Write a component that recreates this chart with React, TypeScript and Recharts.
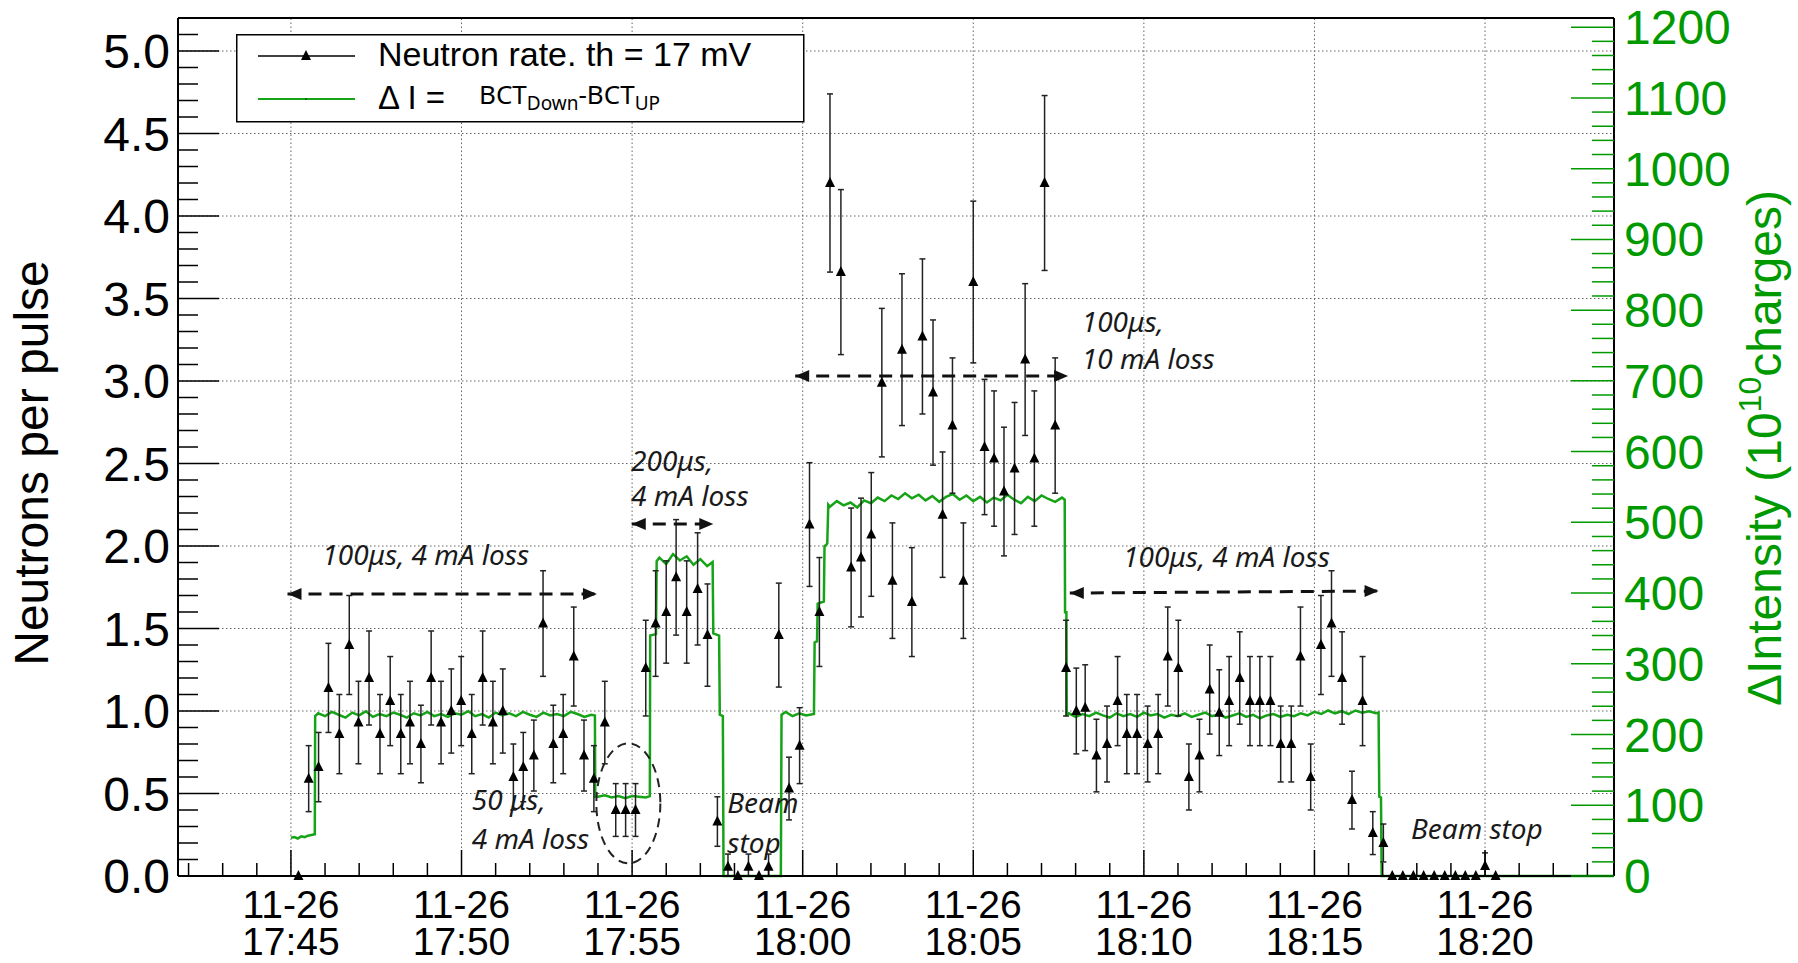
import React from "react";
import {
  ComposedChart,
  Line,
  Scatter,
  ErrorBar,
  XAxis,
  YAxis,
  ReferenceLine,
  ReferenceDot,
  Legend,
} from "recharts";

// time axis is minutes after 11-26 17:45
const X_MIN = -3.31;
const X_MAX = 38.78;
const LEFT_MAX = 5.2;
const RIGHT_MAX = 1213;

const xTickValues = [0, 5, 10, 15, 20, 25, 30, 35];
const xTickTimes = ["17:45", "17:50", "17:55", "18:00", "18:05", "18:10", "18:15", "18:20"];
const xTickDate = "11-26";
const leftTickLabels = ["0.0", "0.5", "1.0", "1.5", "2.0", "2.5", "3.0", "3.5", "4.0", "4.5", "5.0"];
const rightTickLabels = ["0", "100", "200", "300", "400", "500", "600", "700", "800", "900", "1000", "1100", "1200"];

// neutron rate (neutrons per pulse) with error
const neutronTime = [
  0.22, 0.52, 0.81, 1.1, 1.42, 1.71, 1.98, 2.29, 2.61, 2.91, 3.22, 3.49, 3.81, 4.11, 4.4, 4.7, 4.99, 5.3, 5.62, 5.92,
  6.21, 6.52, 6.81, 7.12, 7.39, 7.69, 7.98, 8.29, 8.59, 8.88, 9.2, 9.52, 9.81, 10.1, 10.4, 10.69, 11.0, 11.29, 11.6, 11.92,
  12.21, 12.5, 12.81, 13.1, 13.41, 13.72, 14.0, 14.3, 14.6, 14.91, 15.2, 15.49, 15.8, 16.12, 16.42, 16.71, 17.01, 17.32, 17.63, 17.91,
  18.2, 18.51, 18.82, 19.1, 19.39, 19.71, 20.0, 20.33, 20.61, 20.9, 21.21, 21.52, 21.79, 22.09, 22.4, 22.72, 23.02, 23.28, 23.61, 23.92,
  24.23, 24.5, 24.8, 25.11, 25.42, 25.7, 26.01, 26.32, 26.63, 26.93, 27.21, 27.5, 27.81, 28.11, 28.4, 28.71, 29.01, 29.32, 29.59, 29.89,
  30.19, 30.5, 30.81, 31.1, 31.41, 31.71, 32.02, 32.28, 32.59, 32.9, 33.2, 33.51, 33.82, 34.13, 34.42, 34.73, 35.0, 35.31,
];
const neutronRate = [
  0, 0.59, 0.66, 1.14, 0.86, 1.4, 0.93, 1.2, 0.86, 1.06, 0.86, 0.93, 0.8, 1.2, 0.93, 1.0, 1.06, 0.86, 1.2, 0.93,
  1.0, 0.6, 0.66, 0.73, 1.53, 0.8, 0.86, 1.33, 0.73, 0.59, 0.93, 0.4, 0.4, 0.4, 1.26, 1.53, 1.6, 1.81, 1.6, 1.74,
  1.46, 0.33, 0.056, 0, 0.056, 0, 0.056, 1.46, 0.53, 0.79, 2.13, 1.6, 4.2, 3.66, 1.87, 1.93, 2.07, 2.99, 1.79, 3.19,
  1.66, 3.27, 2.93, 2.19, 2.73, 1.79, 3.6, 2.6, 2.53, 2.33, 2.47, 3.13, 2.53, 4.2, 2.73, 1.26, 1.0, 1.02, 0.73, 0.8,
  1.06, 0.86, 0.86, 0.8, 0.86, 1.33, 1.26, 0.6, 0.73, 1.13, 0.99, 1.06, 1.2, 1.06, 1.06, 1.06, 0.8, 0.8, 1.33, 0.6,
  1.4, 1.53, 1.2, 0.46, 1.06, 0.26, 0.2, 0, 0, 0, 0, 0, 0, 0, 0, 0, 0.06, 0,
];
const neutronErr = [
  0, 0.2, 0.21, 0.27, 0.24, 0.3, 0.25, 0.285, 0.24, 0.27, 0.24, 0.25, 0.235, 0.285, 0.25, 0.255, 0.27, 0.24, 0.285, 0.25,
  0.255, 0.2, 0.21, 0.215, 0.32, 0.235, 0.24, 0.3, 0.215, 0.2, 0.25, 0.16, 0.16, 0.16, 0.29, 0.32, 0.31, 0.35, 0.31, 0.34,
  0.31, 0.15, 0.077, 0, 0.077, 0, 0.077, 0.315, 0.19, 0.23, 0.375, 0.33, 0.54, 0.5, 0.36, 0.36, 0.375, 0.45, 0.35, 0.46,
  0.33, 0.47, 0.44, 0.38, 0.41, 0.35, 0.49, 0.41, 0.41, 0.39, 0.4, 0.46, 0.41, 0.53, 0.41, 0.29, 0.26, 0.26, 0.22, 0.23,
  0.27, 0.24, 0.24, 0.23, 0.24, 0.3, 0.29, 0.2, 0.22, 0.27, 0.26, 0.27, 0.28, 0.27, 0.27, 0.27, 0.23, 0.23, 0.3, 0.2,
  0.3, 0.32, 0.28, 0.175, 0.27, 0.13, 0.115, 0, 0, 0, 0, 0, 0, 0, 0, 0, 0.08, 0,
];

// delta I = BCT_Down - BCT_UP  (10^10 charges), [minute, value]
const dIStart: [number, number][] = [
  [0, 54], [0.1, 55], [0.2, 53], [0.3, 56], [0.4, 55], [0.5, 57], [0.6, 58], [0.7, 59],
];
const dI100usA: [number, number][] = [
  [0.71, 226], [0.8, 230], [1.0, 226], [1.2, 232], [1.4, 228], [1.6, 224], [1.8, 231], [2.0, 227], [2.2, 233], [2.4, 225],
  [2.6, 229], [2.8, 226], [3.0, 231], [3.2, 228], [3.4, 224], [3.6, 230], [3.8, 227], [4.0, 232], [4.2, 226], [4.4, 229],
  [4.6, 225], [4.8, 230], [5.0, 228], [5.2, 233], [5.4, 226], [5.6, 229], [5.8, 224], [6.0, 231], [6.2, 227], [6.4, 230],
  [6.6, 226], [6.8, 232], [7.0, 228], [7.2, 225], [7.4, 231], [7.6, 227], [7.8, 229], [8.0, 226], [8.2, 232], [8.4, 229],
  [8.6, 225], [8.8, 228], [8.91, 227],
];
const dI50us: [number, number][] = [
  [8.92, 112], [9.0, 112], [9.2, 114], [9.4, 111], [9.6, 113], [9.8, 110], [10.0, 113], [10.2, 112], [10.4, 111], [10.52, 113],
];
const dI200us: [number, number][] = [
  [10.53, 340], [10.7, 342], [10.72, 445], [10.8, 450], [11.0, 441], [11.2, 455], [11.4, 446], [11.6, 452], [11.8, 440],
  [12.0, 448], [12.2, 438], [12.36, 444], [12.38, 343], [12.55, 340], [12.57, 228], [12.66, 226], [12.68, 0], [14.36, 0],
];
const dI100us10mA: [number, number][] = [
  [14.38, 228], [14.5, 232], [14.7, 226], [14.9, 230], [15.1, 227], [15.33, 229], [15.35, 330], [15.42, 332], [15.44, 385],
  [15.62, 388], [15.64, 466], [15.72, 470], [15.75, 525], [15.8, 522], [16.0, 530], [16.2, 524], [16.4, 528], [16.6, 521],
  [16.8, 531], [17.0, 527], [17.2, 535], [17.4, 530], [17.6, 538], [17.8, 533], [18.0, 541], [18.2, 534], [18.4, 539],
  [18.6, 531], [18.8, 537], [19.0, 529], [19.2, 536], [19.4, 540], [19.6, 532], [19.8, 538], [20.0, 530], [20.2, 536],
  [20.4, 528], [20.6, 535], [20.8, 531], [21.0, 539], [21.2, 532], [21.4, 527], [21.6, 536], [21.8, 530], [22.0, 538],
  [22.2, 533], [22.4, 529], [22.6, 535], [22.68, 532], [22.69, 373], [22.73, 373],
];
const dI100usB: [number, number][] = [
  [22.74, 228], [22.8, 230], [23.0, 225], [23.2, 229], [23.4, 226], [23.6, 231], [23.8, 227], [24.0, 224], [24.2, 230],
  [24.4, 226], [24.6, 229], [24.8, 225], [25.0, 231], [25.2, 227], [25.4, 229], [25.6, 224], [25.8, 228], [26.0, 226],
  [26.2, 230], [26.4, 225], [26.6, 228], [26.8, 231], [27.0, 226], [27.2, 229], [27.4, 224], [27.6, 227], [27.8, 230],
  [28.0, 225], [28.2, 228], [28.4, 223], [28.6, 227], [28.8, 229], [29.0, 225], [29.2, 228], [29.4, 226], [29.6, 230],
  [29.8, 227], [30.0, 232], [30.2, 229], [30.4, 234], [30.6, 230], [30.8, 233], [31.0, 229], [31.2, 234], [31.4, 231],
  [31.6, 233], [31.8, 230], [31.88, 231], [31.9, 112], [31.95, 111], [31.97, 0],
];
const dIStop2: [number, number][] = [[38.78, 0]];

// text notes and dashed arrows, placed in data coordinates
const notes = [
  { t: 0.92, v: 1.945, text: "100μs, 4 mA loss" },
  { t: 5.3, v: 0.461, text: "50 μs," },
  { t: 5.3, v: 0.224, text: "4 mA loss" },
  { t: 9.97, v: 2.515, text: "200μs," },
  { t: 9.97, v: 2.303, text: "4 mA loss" },
  { t: 12.79, v: 0.442, text: "Beam" },
  { t: 12.79, v: 0.2, text: "stop" },
  { t: 23.18, v: 3.358, text: "100μs," },
  { t: 23.18, v: 3.133, text: "10 mA loss" },
  { t: 24.39, v: 1.935, text: "100μs, 4 mA loss" },
  { t: 32.83, v: 0.285, text: "Beam stop" },
];
const arrows = [
  { t1: -0.1, v1: 1.709, t2: 8.97, v2: 1.709 },
  { t1: 9.99, v1: 2.133, t2: 12.38, v2: 2.133 },
  { t1: 14.78, v1: 3.03, t2: 22.78, v2: 3.03 },
  { t1: 22.83, v1: 1.715, t2: 31.88, v2: 1.727 },
];

const FONT = '"Liberation Sans", Arial, Helvetica, sans-serif';
const NOTE_FONT = '"Noto Sans", "Open Sans", sans-serif';
const AXIS_GREEN = "#009a00";
const LINE_GREEN = "#17a317";

const neutronData = neutronTime.map((t, i) => ({
  t,
  n: neutronRate[i],
  err: [Math.min(neutronErr[i], neutronRate[i]), neutronErr[i]],
}));
const greenData = [...dIStart, ...dI100usA, ...dI50us, ...dI200us, ...dI100us10mA, ...dI100usB, ...dIStop2].map(
  ([t, dI]) => ({ t, dI })
);

const xMinorTicks = Array.from({ length: 42 }, (_, i) => i - 3);
const leftTicks = Array.from({ length: 53 }, (_, i) => i / 10);
const rightTicks = Array.from({ length: 61 }, (_, i) => i * 20);
const gridX = xTickValues;
const gridY = [0.5, 1, 1.5, 2, 2.5, 3, 3.5, 4, 4.5, 5];

function XTick(props: any) {
  const { x, y, payload } = props;
  const k = xTickValues.indexOf(payload.value);
  if (k < 0) return <line x1={x} y1={y} x2={x} y2={y - 13} stroke="#000" strokeWidth={1.5} />;
  return (
    <g>
      <line x1={x} y1={y} x2={x} y2={y - 26} stroke="#000" strokeWidth={1.5} />
      <text x={x} y={y + 42} textAnchor="middle" fontSize={39} fontFamily={FONT} fill="#000">
        <tspan x={x}>{xTickDate}</tspan>
        <tspan x={x} dy={37}>
          {xTickTimes[k]}
        </tspan>
      </text>
    </g>
  );
}

function LeftTick(props: any) {
  const { x, y, payload } = props;
  const i = Math.round(payload.value * 10);
  const major = i % 5 === 0;
  return (
    <g>
      <line x1={x} y1={y} x2={x + (major ? 41 : 20)} y2={y} stroke="#000" strokeWidth={1.5} />
      {major && (
        <text x={x - 8} y={y + 17} textAnchor="end" fontSize={48} fontFamily={FONT} fill="#000">
          {leftTickLabels[i / 5]}
        </text>
      )}
    </g>
  );
}

function RightTick(props: any) {
  const { x, y, payload } = props;
  const i = Math.round(payload.value / 20);
  const major = i % 5 === 0;
  return (
    <g>
      <line x1={x} y1={y} x2={x - (major ? 43 : 22)} y2={y} stroke={AXIS_GREEN} strokeWidth={1.5} />
      {major && (
        <text x={x + 10} y={y + 17} textAnchor="start" fontSize={48} fontFamily={FONT} fill={AXIS_GREEN}>
          {rightTickLabels[i / 5]}
        </text>
      )}
    </g>
  );
}

function LeftTitle(props: any) {
  const vb = props.viewBox || { x: 0, y: 18, width: 178, height: 858 };
  const cx = vb.x + 48;
  const cy = vb.y + vb.height / 2 + 16;
  return (
    <text
      x={cx}
      y={cy}
      transform={`rotate(-90 ${cx} ${cy})`}
      textAnchor="middle"
      fontSize={48}
      fontFamily={FONT}
      fill="#000"
    >
      Neutrons per pulse
    </text>
  );
}

function RightTitle(props: any) {
  const vb = props.viewBox || { x: 1614, y: 18, width: 184, height: 858 };
  const cx = vb.x + 167;
  const cy = vb.y + vb.height / 2 + 1;
  return (
    <text
      x={cx}
      y={cy}
      transform={`rotate(-90 ${cx} ${cy})`}
      textAnchor="middle"
      fontSize={48}
      fontFamily={FONT}
      fill={AXIS_GREEN}
    >
      <tspan>ΔIntensity (10</tspan>
      <tspan dy={-20} fontSize={32}>
        10
      </tspan>
      <tspan dy={20}>charges)</tspan>
    </text>
  );
}

function Triangle(props: any) {
  const { cx, cy } = props;
  if (cx == null || cy == null) return null;
  return <polygon points={`${cx},${cy - 6} ${cx - 5},${cy + 4} ${cx + 5},${cy + 4}`} fill="#000" />;
}

function LegendBox() {
  return (
    <svg width={569} height={89} style={{ display: "block" }}>
      <rect x={0.75} y={0.75} width={567} height={87} fill="#fff" stroke="#000" strokeWidth={1.5} />
      <line x1={22} y1={22} x2={119} y2={22} stroke="#000" strokeWidth={1.5} />
      <polygon points="70,16 65,26 75,26" fill="#000" />
      <text x={142} y={32} fontSize={34} fontFamily={FONT} fill="#000">
        Neutron rate. th = 17 mV
      </text>
      <line x1={22} y1={65} x2={119} y2={65} stroke={LINE_GREEN} strokeWidth={2} />
      <rect x={69} y={64} width={2} height={2} fill="#006600" />
      <text x={142} y={75} fontSize={33} fontFamily={FONT} fill="#000">
        Δ I =
      </text>
      <text x={243} y={70} fontSize={26} fontFamily={NOTE_FONT} fill="#000">
        <tspan>BCT</tspan>
        <tspan fontSize={19} dy={6}>
          Down
        </tspan>
        <tspan dy={-6}>-BCT</tspan>
        <tspan fontSize={19} dy={6}>
          UP
        </tspan>
      </text>
    </svg>
  );
}

const noteShape = (text: string) => (p: any) => (
  <text x={p.cx} y={p.cy + 10} fontSize={28} fontStyle="italic" fontFamily={NOTE_FONT} fill="#1a1a1a">
    {text}
  </text>
);
const headLeft = (p: any) => (
  <polygon points={`${p.cx},${p.cy} ${p.cx + 14},${p.cy - 6} ${p.cx + 14},${p.cy + 6}`} fill="#111" />
);
const headRight = (p: any) => (
  <polygon points={`${p.cx},${p.cy} ${p.cx - 14},${p.cy - 6} ${p.cx - 14},${p.cy + 6}`} fill="#111" />
);
const ellipseShape = (p: any) => (
  <ellipse cx={p.cx} cy={p.cy} rx={32} ry={60} fill="none" stroke="#222" strokeWidth={2} strokeDasharray="9 6" />
);

export default function App() {
  return (
    <div style={{ position: "absolute", left: 0, top: 0, width: 1798, height: 963, background: "#fff" }}>
      <ComposedChart width={1798} height={963} margin={{ top: 18, right: 0, bottom: 0, left: 0 }}>
        <XAxis
          dataKey="t"
          type="number"
          domain={[X_MIN, X_MAX]}
          ticks={xMinorTicks}
          interval={0}
          height={87}
          tickSize={0}
          tickMargin={0}
          tickLine={false}
          axisLine={{ stroke: "#000", strokeWidth: 2 }}
          tick={(p: any) => <XTick {...p} />}
        />
        <YAxis
          yAxisId="left"
          type="number"
          domain={[0, LEFT_MAX]}
          ticks={leftTicks}
          interval={0}
          width={178}
          tickSize={0}
          tickMargin={0}
          tickLine={false}
          axisLine={{ stroke: "#000", strokeWidth: 2 }}
          tick={(p: any) => <LeftTick {...p} />}
          label={<LeftTitle />}
        />
        <YAxis
          yAxisId="right"
          orientation="right"
          type="number"
          domain={[0, RIGHT_MAX]}
          ticks={rightTicks}
          interval={0}
          width={184}
          tickSize={0}
          tickMargin={0}
          tickLine={false}
          axisLine={{ stroke: "#000", strokeWidth: 2 }}
          tick={(p: any) => <RightTick {...p} />}
          label={<RightTitle />}
        />

        {gridX.map((v) => (
          <ReferenceLine key={`gx${v}`} x={v} yAxisId="left" stroke="#666" strokeWidth={1} strokeDasharray="1.5 2.5" />
        ))}
        {gridY.map((v) => (
          <ReferenceLine key={`gy${v}`} y={v} yAxisId="left" stroke="#666" strokeWidth={1} strokeDasharray="1.5 2.5" />
        ))}
        <ReferenceLine y={LEFT_MAX} yAxisId="left" stroke="#000" strokeWidth={2} />

        <Line
          data={greenData}
          dataKey="dI"
          yAxisId="right"
          type="linear"
          stroke={LINE_GREEN}
          strokeWidth={2.5}
          dot={false}
          isAnimationActive={false}
        />
        <Scatter data={neutronData} dataKey="n" yAxisId="left" shape={<Triangle />} isAnimationActive={false}>
          <ErrorBar dataKey="err" direction="y" width={3} stroke="#222" strokeWidth={1.5} />
        </Scatter>

        {arrows.map((a, i) => (
          <ReferenceLine
            key={`al${i}`}
            yAxisId="left"
            segment={[
              { x: a.t1, y: a.v1 },
              { x: a.t2, y: a.v2 },
            ]}
            stroke="#111"
            strokeWidth={3}
            strokeDasharray="13 8"
          />
        ))}
        {arrows.map((a, i) => (
          <ReferenceDot key={`ha${i}`} x={a.t1} y={a.v1} yAxisId="left" r={0} shape={headLeft} />
        ))}
        {arrows.map((a, i) => (
          <ReferenceDot key={`hb${i}`} x={a.t2} y={a.v2} yAxisId="left" r={0} shape={headRight} />
        ))}
        <ReferenceDot x={9.89} y={0.44} yAxisId="left" r={0} shape={ellipseShape} />
        {notes.map((n, i) => (
          <ReferenceDot key={`n${i}`} x={n.t} y={n.v} yAxisId="left" r={0} shape={noteShape(n.text)} />
        ))}

        <Legend
          layout="vertical"
          align="center"
          verticalAlign="middle"
          content={() => <LegendBox />}
          wrapperStyle={{ left: 236, top: 34, width: 569, height: 89 }}
        />
      </ComposedChart>
    </div>
  );
}
